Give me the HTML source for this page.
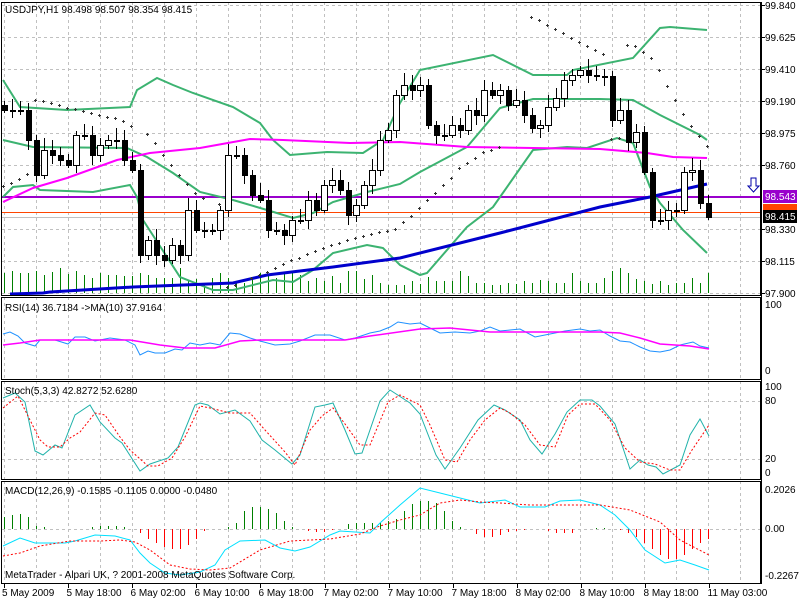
<!DOCTYPE html>
<html><head><meta charset="utf-8"><style>
html,body{margin:0;padding:0;background:#fff;}
svg{display:block;font-family:"Liberation Sans",sans-serif;font-size:10px;}
line,rect{shape-rendering:crispEdges;}
</style></head><body>
<svg id="c" width="800" height="600" xmlns="http://www.w3.org/2000/svg"></svg>
<script>
const S=document.getElementById('c');let h='';
const pl=(p,c,w,d)=>{h+=`<polyline fill="none" stroke="${c}" stroke-width="${w}" ${d?'stroke-dasharray="'+d+'"':''} points="${p.map(a=>a.join(',')).join(' ')}"/>`;};
const ln=(x1,y1,x2,y2,c,w,d)=>{h+=`<line x1="${x1}" y1="${y1}" x2="${x2}" y2="${y2}" stroke="${c}" stroke-width="${w||1}" ${d?'stroke-dasharray="'+d+'"':''}/>`;};
const tx=(x,y,t,c,a)=>{h+=`<text x="${x}" y="${y}" fill="${c||'#000'}" ${a||''}>${t}</text>`;};
const panels=[[2,295],[297,379],[381,479],[481,583]];
for(const [t,b] of panels){for(let x=4;x<761;x+=32)ln(x+.5,t,x+.5,b,'#c0c0c0',1,'3,3');}
for(let y=5;y<=293;y+=32)ln(2,y+.5,761,y+.5,'#c0c0c0',1,'3,3');
ln(2,401.5,761,401.5,'#c0c0c0',1,'3,3');ln(2,459.5,761,459.5,'#c0c0c0',1,'3,3');ln(2,529.5,761,529.5,'#c0c0c0',1,'3,3');
const vh=[20,22,20,20,22,18,21,25,19,22,18,15,20,18,18,17,17,20,18,15,15,15,25,12,14,9,15,20,15,11,10,15,20,18,15,20,20,18,12,15,12,17,10,22,22,14,18,10,8,8,8,12,9,16,12,12,12,22,17,10,10,8,8,10,9,12,10,13,12,10,10,20,12,10,10,15,22,25,20,14,12,9,12,8,10,10,15,10];
const cl=[110,110,110,140,175,150,155,160,165,135,135,155,145,140,140,160,170,255,240,255,260,245,255,210,230,230,230,210,155,155,175,195,200,230,230,235,220,220,200,210,185,180,190,215,205,185,170,140,130,95,85,90,85,125,135,135,125,130,110,115,90,95,90,105,100,115,128,125,107,98,80,75,70,75,76,76,120,110,142,132,172,220,220,210,210,172,170,203,217];
cl.forEach((c,i)=>{const x=4+i*8+.5;ln(x,293,x,293-(vh[i%vh.length]||12),'#008000',1);});
ln(2,217.5,761,217.5,'#c0c0c0',1);ln(2,212.5,761,212.5,'#ff4500',1);ln(2,197,761,197,'#9900cc',2);
pl([[3,80],[20,107],[67,110],[130,107],[137,90],[157,78],[173,85],[193,93],[233,107],[260,123],[273,140],[290,155],[327,152],[363,153],[383,140],[400,103],[420,70],[493,55],[533,75],[567,75],[573,70],[633,58],[660,28],[670,27],[707,30]],'#3cb371',2);
pl([[3,140],[33,147],[127,148],[147,157],[173,173],[200,192],[233,200],[267,210],[293,218],[313,213],[333,202],[367,192],[400,184],[420,172],[467,147],[500,108],[533,99],[567,99],[600,99],[633,100],[660,115],[700,135],[707,140]],'#3cb371',2);
pl([[3,197],[13,187],[33,185],[40,190],[93,192],[130,185],[137,197],[143,220],[180,277],[213,290],[233,290],[273,280],[293,282],[313,270],[333,253],[367,245],[383,248],[400,265],[420,275],[427,273],[467,227],[493,207],[533,150],[567,147],[587,148],[617,138],[633,143],[650,187],[660,203],[683,230],[707,253]],'#3cb371',2);
pl([[3,202],[33,188],[67,178],[117,160],[150,153],[200,148],[250,139],[283,140],[350,143],[400,142],[467,147],[600,149],[647,153],[673,157],[707,158]],'#ff00ff',2);
pl([[10,294],[43,293],[50,292],[133,287],[233,283],[267,275],[333,267],[400,258],[500,233],[600,207],[650,197],[707,184]],'#0000cc',3);
const sar=[[3,186],[11,183],[19,179],[27,174],[35,100],[43,101],[51,103],[59,105],[67,108],[75,109],[83,111],[91,113],[99,115],[107,117],[115,118],[123,121],[131,126],[147,134],[155,143],[163,155],[171,165],[179,175],[187,184],[195,193],[203,198],[219,204],[227,287],[235,285],[251,278],[259,275],[267,272],[275,268],[283,264],[291,260],[299,258],[307,254],[315,251],[323,248],[331,245],[339,243],[347,240],[355,238],[363,236],[371,234],[379,232],[387,231],[395,229],[403,222],[411,216],[419,208],[427,200],[435,193],[443,185],[451,178],[459,168],[467,163],[475,158],[483,152],[491,150],[499,147],[531,17],[539,20],[547,25],[555,29],[563,33],[571,38],[579,42],[587,46],[595,50],[603,54],[611,139],[619,138],[627,45],[635,46],[643,52],[651,58],[659,70],[667,86],[675,100],[683,114],[691,126],[699,136],[707,146]];
sar.forEach(([x,y])=>{h+=`<rect x="${x-1}" y="${y}" width="3" height="1" fill="#333"/><rect x="${x}" y="${y-1}" width="1" height="3" fill="#333"/>`;});
let po=105;
cl.forEach((c,i)=>{const x=4+i*8;const o=po;po=c;const t=Math.min(o,c),b=Math.max(o,c);const hi=t-(4+(i*7)%9),lo=b+(3+(i*5)%8);
ln(x+.5,hi,x+.5,lo,'#000',1);const bh=Math.max(b-t,1);
if(c<o)h+=`<rect x="${x-2.5}" y="${t+.5}" width="6" height="${bh}" fill="#fff" stroke="#000" stroke-width="1"/>`;else h+=`<rect x="${x-2}" y="${t}" width="6" height="${bh+1}" fill="#000"/>`;});
pl([[3,334],[10,332],[18,336],[25,343],[35,346],[40,340],[55,340],[68,344],[75,337],[85,337],[95,341],[100,340],[110,338],[125,340],[135,345],[140,355],[148,351],[155,353],[165,353],[175,349],[182,350],[190,343],[200,345],[210,343],[220,345],[230,333],[240,334],[250,338],[260,341],[275,345],[290,344],[300,341],[315,335],[330,335],[345,340],[355,338],[370,333],[380,331],[390,327],[398,322],[410,324],[420,323],[430,328],[440,333],[455,332],[470,333],[480,331],[490,327],[500,331],[510,330],[520,329],[535,337],[550,334],[565,331],[580,329],[590,331],[600,330],[610,336],[620,341],[630,342],[640,347],[650,351],[660,352],[670,350],[680,345],[693,342],[700,346],[709,348]],'#1e90ff',1);
pl([[3,345],[20,343],[40,340],[130,340],[160,345],[185,348],[215,348],[240,341],[260,340],[345,340],[370,336],[420,329],[450,328],[470,330],[490,332],[560,332],[600,332],[620,333],[640,338],[660,344],[690,346],[709,349]],'#ff00ff',1.5);
pl([[3,398],[15,393],[25,402],[35,451],[43,455],[55,445],[62,448],[75,415],[90,405],[100,422],[115,438],[122,443],[140,471],[150,464],[168,458],[178,447],[195,405],[200,403],[208,405],[220,414],[235,410],[250,421],[262,440],[275,450],[292,464],[300,455],[315,407],[325,405],[333,403],[345,430],[355,454],[362,453],[380,401],[390,390],[410,403],[420,414],[436,455],[445,469],[460,448],[478,420],[494,405],[505,410],[520,420],[530,440],[542,454],[555,434],[567,412],[580,400],[592,400],[600,406],[615,424],[630,469],[640,460],[648,465],[656,467],[663,474],[680,465],[690,435],[700,419],[709,436]],'#20b2aa',1);
pl([[3,408],[18,396],[30,420],[40,440],[48,447],[60,447],[70,438],[80,432],[95,413],[105,415],[120,437],[130,450],[148,466],[158,466],[172,458],[185,437],[200,406],[210,408],[230,413],[250,413],[265,430],[285,452],[295,465],[310,430],[322,416],[333,408],[345,424],[360,445],[370,445],[388,402],[400,395],[420,405],[430,425],[445,460],[457,462],[470,440],[485,420],[500,408],[510,413],[525,425],[540,445],[555,447],[568,415],[580,404],[595,404],[610,420],[625,448],[640,462],[655,464],[670,470],[680,470],[692,450],[709,425]],'#ff0000',1,'2,2');
const mh=[12,14,15,12,3,2,0,0,0,0,0,2,3,3,3,2,0,-4,-10,-14,-18,-20,-20,-16,-10,-2,0,0,2,6,18,22,22,20,16,8,2,0,-2,-3,-3,-1,0,5,6,6,6,6,8,10,18,25,28,28,26,18,8,2,0,-5,-8,-8,-6,-3,-2,-1,0,0,-2,-4,-4,-4,0,0,1,1,0,-1,-4,-8,-14,-20,-26,-30,-30,-26,-20,-14,-10];
mh.forEach((v,i)=>{const x=4+i*8+.5;if(v)ln(x,529,x,529-v,v>0?'#008000':'#ff0000',1);});
pl([[3,546],[20,538],[35,543],[65,543],[75,541],[95,535],[115,536],[130,540],[140,553],[150,563],[165,573],[180,575],[200,572],[215,565],[225,550],[240,541],[265,540],[280,548],[295,551],[310,547],[330,535],[340,531],[370,533],[380,523],[400,505],[420,488],[440,493],[480,503],[505,500],[520,507],[545,507],[560,501],[580,500],[600,505],[615,515],[630,530],[645,550],[665,563],[680,560],[695,565],[709,570]],'#00e0ff',1);
pl([[3,556],[20,553],[40,546],[70,541],[100,541],[120,540],[135,542],[150,550],[170,565],[190,569],[210,570],[230,568],[260,550],[290,541],[330,539],[360,534],[380,526],[400,520],[420,515],[440,503],[460,500],[480,502],[500,503],[530,505],[560,505],[600,505],[630,510],[660,522],[680,540],[709,555]],'#ff0000',1,'2,2');
for(const [t,b] of panels){h+=`<rect x="1.5" y="${t+.5}" width="759" height="${b-t}" fill="none" stroke="#000" stroke-width="1"/>`;}
ln(761.5,2,761.5,584,'#000',1);
const rl=[[99.840,5],[99.625,37],[99.410,69],[99.190,101],[98.975,133],[98.760,165],[98.330,229],[98.115,261],[97.900,293]];
rl.forEach(([v,y])=>{ln(761,y+.5,765,y+.5,'#000');tx(765,y+4,v.toFixed(3));});
h+=`<rect x="763" y="190" width="34" height="13" fill="#9900cc"/>`;tx(765,200,'98.543','#fff');
h+=`<rect x="763" y="204" width="34" height="10" fill="#ff4500"/>`;
h+=`<rect x="763" y="210" width="34" height="13" fill="#000"/>`;tx(765,220,'98.415','#fff');
h+=`<path d="M751 178 h5 v8 h3 l-5.5 6 l-5.5 -6 h3 z" fill="#fff" stroke="#0000aa" stroke-width="1"/>`;
tx(765,308,'100');tx(765,374,'0');
tx(765,390,'100');tx(765,404,'80');tx(765,462,'20');tx(765,476,'0');
tx(765,493,'0.2026');tx(765,532,'0.00');tx(765,579,'-0.2267');
tx(5,13,'USDJPY,H1  98.498 98.507 98.354 98.415');
tx(5,311,'RSI(14) 36.7184  -&gt;MA(10) 37.9164');
tx(5,394,'Stoch(5,3,3) 42.8272 52.6280');
tx(5,494,'MACD(12,26,9) -0.1585 -0.1105 0.0000 -0.0480');
tx(5,578,'MetaTrader - Alpari UK, ? 2001-2008 MetaQuotes Software Corp.');
const dl=['5 May 2009','5 May 18:00','6 May 02:00','6 May 10:00','6 May 18:00','7 May 02:00','7 May 10:00','7 May 18:00','8 May 02:00','8 May 10:00','8 May 18:00','11 May 03:00'];
dl.forEach((t,i)=>{const x=Math.round(4+i*64.1)+.5;ln(x,583,x,588,'#000');tx(i==0?2:x-2,596,t);});
S.innerHTML=h;
</script>
</body></html>
